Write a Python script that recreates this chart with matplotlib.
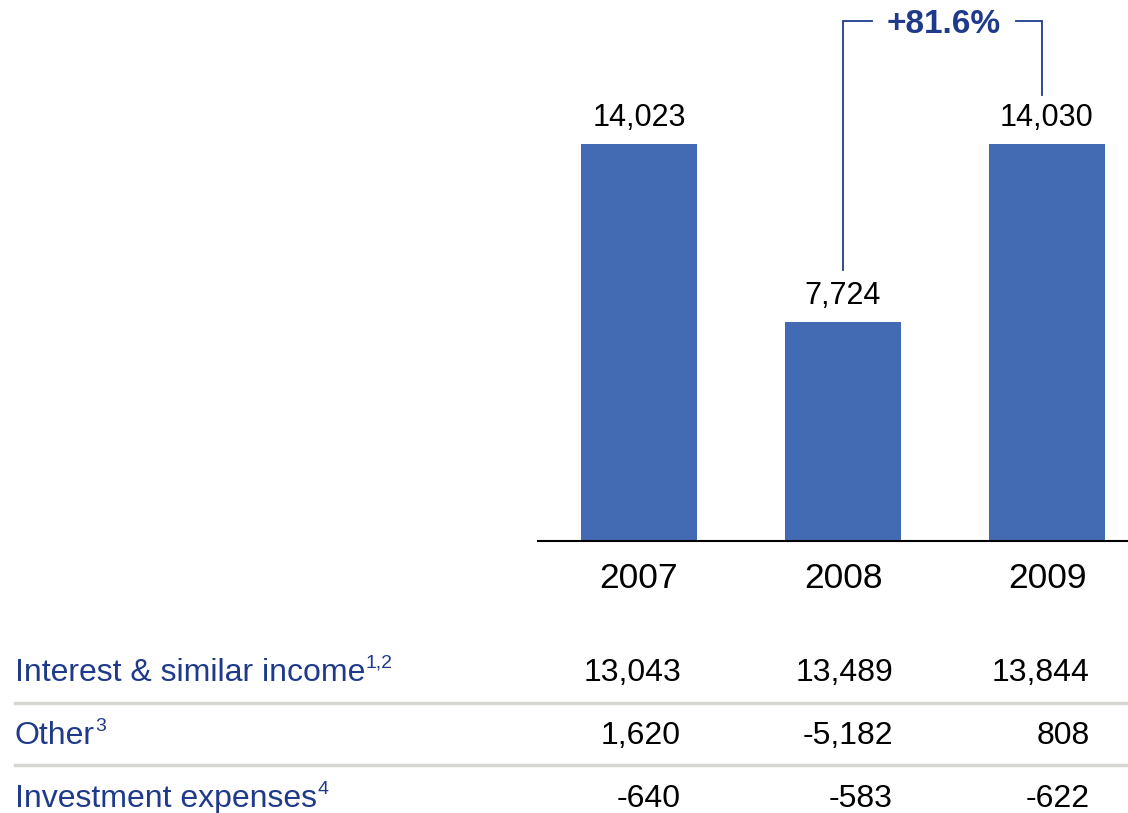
import matplotlib
matplotlib.use("Agg")
import matplotlib.pyplot as plt

plt.rcParams['font.family'] = ['Liberation Sans', 'DejaVu Sans']

years = ["2007", "2008", "2009"]
totals = [14023, 7724, 14030]
total_labels = ["14,023", "7,724", "14,030"]
growth_label = "+81.6%"

row_names = ["Interest & similar income", "Other", "Investment expenses"]
row_notes = ["1,2", "3", "4"]
row_values = [
    ["13,043", "13,489", "13,844"],
    ["1,620", "-5,182", "808"],
    ["-640", "-583", "-622"],
]

BAR = "#436BB3"
NAVY = "#1F3A8A"
W, H = 1128, 813

fig = plt.figure(figsize=(W / 100, H / 100), dpi=100)

def fx(px):
    return px / W

def fy(py):
    return 1 - py / H

# bar axes: bottom at the baseline, top at figure top
ax_left, ax_right, ax_bottom = 538, 1128, 541
ax = fig.add_axes([fx(ax_left), fy(ax_bottom), fx(ax_right - ax_left), ax_bottom / H])
px_per_slot = 204
x = list(range(len(years)))
ax.bar(x, totals, width=116 / px_per_slot, color=BAR, zorder=2)
ax.set_xlim(-(639 - ax_left) / px_per_slot, 2 + (ax_right - 1047) / px_per_slot)
val_per_px = 14023 / 397
ax.set_ylim(0, ax_bottom * val_per_px)
for s in ["top", "right", "left"]:
    ax.spines[s].set_visible(False)
ax.spines["bottom"].set_linewidth(1.5)
ax.spines["bottom"].set_color("black")
ax.set_yticks([])
ax.set_xticks(x)
ax.set_xticklabels(years, fontsize=25.5)
ax.tick_params(axis="x", length=0, pad=15)

for xi, v, lab in zip(x, totals, total_labels):
    ax.annotate(lab, (xi, v), xytext=(0, 8), textcoords="offset points",
                ha="center", va="bottom", fontsize=22, color="black")

# growth bracket from 2008 to 2009
top_y = (ax_bottom - 21) * val_per_px
left_x = 1
right_x = 2 - 5 / px_per_slot
left_bot = totals[1] + 1850
right_bot = totals[2] + 1720
gap_l = 1 + (872 - 843) / px_per_slot
gap_r = 1 + (1016 - 843) / px_per_slot
lw = 1.3
ax.plot([left_x, left_x, gap_l], [left_bot, top_y, top_y], color=NAVY, lw=lw,
        solid_joinstyle="miter", clip_on=False)
ax.plot([gap_r, right_x, right_x], [top_y, top_y, right_bot], color=NAVY, lw=lw,
        solid_joinstyle="miter", clip_on=False)
ax.text((gap_l + gap_r) / 2, top_y - 3 * val_per_px, growth_label, ha="center",
        va="center", fontsize=24, fontweight="bold", color=NAVY)

# table below the chart
row_y = [673, 736, 799]
col_right = [681, 893, 1090]
fig.canvas.draw()
renderer = fig.canvas.get_renderer()
for name, note, vals, yy in zip(row_names, row_notes, row_values, row_y):
    t = fig.text(fx(15), fy(yy), name, ha="left", va="center", fontsize=23, color=NAVY)
    bb = t.get_window_extent(renderer)
    fig.text(bb.x1 / W, fy(yy - 10), note, ha="left", va="center",
             fontsize=14, color=NAVY)
    for cx, v in zip(col_right, vals):
        fig.text(fx(cx), fy(yy), v, ha="right", va="center", fontsize=23, color="black")

for sep in [703, 765]:
    fig.add_artist(plt.Line2D([fx(15), 1], [fy(sep), fy(sep)], color="#D6D6D2",
                              lw=2.5, transform=fig.transFigure))

fig.savefig("out.png", dpi=100)
